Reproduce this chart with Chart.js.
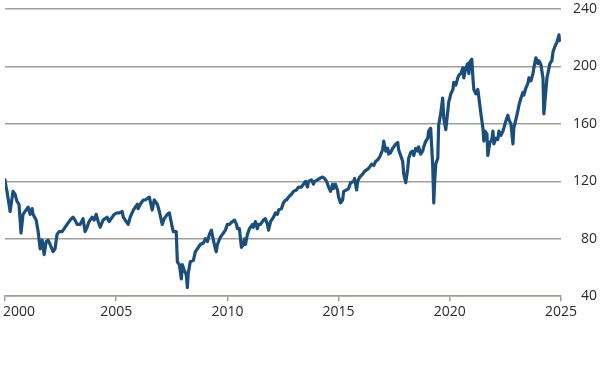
<!DOCTYPE html>
<html>
<head>
<meta charset="utf-8">
<script src="https://cdn.jsdelivr.net/npm/chart.js@4.4.1/dist/chart.umd.min.js"></script>
<style>
  html, body { margin: 0; padding: 0; background: #ffffff; }
  #wrap { width: 600px; height: 380px; }
</style>
</head>
<body>
<div id="wrap"><canvas id="c" width="600" height="380"></canvas></div>
<script>
const years = [
  2000.00,2000.05,2000.09,2000.23,2000.36,2000.45,2000.54,2000.63,2000.72,2000.81,2000.95,
  2001.04,2001.13,2001.22,2001.26,2001.40,2001.49,2001.58,2001.67,2001.76,2001.85,2001.94,
  2002.03,2002.16,2002.25,2002.34,2002.43,2002.57,2002.66,2002.79,2002.93,
  2003.06,2003.15,2003.24,2003.38,2003.51,2003.60,2003.69,2003.78,2003.92,
  2004.01,2004.10,2004.19,2004.28,2004.41,2004.50,2004.59,2004.68,2004.82,2004.91,
  2005.05,2005.14,2005.27,2005.32,2005.45,2005.54,2005.63,2005.77,2005.86,2005.95,2005.99,
  2006.08,2006.22,2006.31,2006.40,2006.49,2006.62,2006.71,2006.85,2006.94,
  2007.07,2007.16,2007.30,2007.39,2007.52,2007.57,2007.70,2007.75,2007.84,2007.93,2007.97,
  2008.06,2008.15,2008.20,2008.24,2008.33,2008.47,2008.56,2008.65,2008.78,2008.92,
  2009.01,2009.10,2009.19,2009.28,2009.37,2009.46,2009.50,2009.55,2009.68,2009.82,2009.91,
  2010.00,2010.09,2010.23,2010.32,2010.41,2010.45,2010.54,2010.63,2010.72,2010.77,2010.81,2010.90,2010.99,
  2011.13,2011.17,2011.26,2011.35,2011.40,2011.49,2011.62,2011.71,2011.80,2011.85,2011.94,
  2012.07,2012.16,2012.25,2012.30,2012.43,2012.52,2012.61,2012.66,2012.75,2012.88,2012.97,
  2013.11,2013.20,2013.33,2013.42,2013.51,2013.60,2013.65,2013.78,2013.87,2013.92,
  2014.05,2014.14,2014.28,2014.37,2014.46,2014.55,2014.64,2014.73,2014.77,2014.86,2014.95,
  2015.00,2015.09,2015.18,2015.23,2015.36,2015.45,2015.54,2015.68,2015.72,2015.81,2015.86,2015.95,
  2016.08,2016.17,2016.26,2016.35,2016.49,2016.58,2016.67,2016.76,2016.85,2016.98,
  2017.03,2017.12,2017.21,2017.25,2017.34,2017.43,2017.48,2017.57,2017.66,2017.70,2017.79,2017.88,2017.93,
  2018.02,2018.11,2018.15,2018.24,2018.33,2018.38,2018.47,2018.56,2018.60,2018.69,2018.78,2018.83,2018.92,
  2019.01,2019.05,2019.14,2019.23,2019.28,2019.32,2019.37,2019.46,2019.50,2019.59,2019.68,2019.73,2019.82,2019.91,2019.95,
  2020.05,2020.14,2020.18,2020.27,2020.36,2020.41,2020.50,2020.59,2020.63,2020.72,2020.81,2020.86,2020.90,2020.99,
  2021.04,2021.08,2021.17,2021.26,2021.31,2021.40,2021.49,2021.53,2021.58,2021.67,2021.71,2021.80,2021.89,2021.94,2021.98,
  2022.07,2022.16,2022.21,2022.30,2022.39,2022.43,2022.52,2022.61,2022.66,2022.75,2022.84,2022.88,2022.97,
  2023.06,2023.11,2023.20,2023.29,2023.33,2023.42,2023.51,2023.56,2023.65,2023.74,2023.78,2023.87,2023.96,
  2024.01,2024.10,2024.19,2024.23,2024.28,2024.37,2024.41,2024.50,2024.59,2024.64,2024.73,2024.82,2024.91,2024.93
];

// Index level at each observation
const values = [
  121,116,113,99,113,111,106,104,84,97,100,
  102,97,101,97,93,85,73,79,69,78,79,
  76,71,73,83,85,85,87,90,93,
  95,93,90,90,94,85,88,92,95,
  93,97,92,88,93,94,95,92,95,97,
  98,98,99,95,92,90,95,100,102,104,101,
  104,107,107,108,109,100,107,104,99,
  90,94,97,98,88,85,85,64,62,52,62,
  58,55,46,56,64,65,71,73,76,77,
  80,78,83,86,79,73,71,76,81,84,86,
  90,90,92,93,90,87,87,74,76,80,76,83,87,
  90,88,92,87,90,90,93,94,90,86,92,
  95,98,97,100,101,105,107,107,109,111,113,
  114,116,116,118,120,116,120,121,118,120,
  121,122,123,122,120,116,113,118,115,118,114,
  109,105,107,113,114,115,119,120,122,114,120,123,
  125,127,128,129,132,131,134,135,137,142,
  148,141,143,139,140,143,144,146,147,142,138,134,125,
  119,129,136,140,141,138,143,141,144,139,141,144,148,
  150,155,157,132,105,120,132,136,159,167,178,164,156,169,175,
  181,184,189,187,192,194,195,199,192,199,202,195,203,205,
  192,184,181,184,178,167,157,148,155,153,138,147,149,155,146,
  150,149,155,152,155,157,162,166,163,160,146,157,163,
  169,173,178,182,180,185,188,192,190,195,199,206,202,
  204,201,192,167,176,192,195,202,204,210,214,217,222,218
];

const xTicks = [2000, 2005, 2010, 2015, 2020, 2025];
const yTicks = [40, 80, 120, 160, 200, 240];

const points = years.map((y, i) => ({ x: y, y: values[i] }));

const gridColor = '#a29e96';
const textColor = '#2a2a2a';
const font = { family: "'Open Sans', 'Liberation Sans', sans-serif", size: 14 };

// Keep the first x label inside the canvas (left-aligned just before its tick), like the reference
const firstLabelInside = {
  id: 'firstLabelInside',
  beforeDraw(chart) {
    const s = chart.scales.x;
    const items = s.getLabelItems();
    if (items && items.length) {
      items[0].options.textAlign = 'left';
      items[0].options.translation[0] = s.getPixelForValue(xTicks[0]) - 2;
    }
  }
};

new Chart(document.getElementById('c'), {
  type: 'line',
  data: {
    datasets: [{
      data: points,
      borderColor: '#1b4e7b',
      borderWidth: 3.2,
      pointRadius: 0,
      tension: 0,
      fill: false,
      borderJoinStyle: 'round',
      borderCapStyle: 'round'
    }]
  },
  options: {
    responsive: false,
    animation: false,
    layout: { padding: { left: 5, right: 3, top: 9, bottom: 58 } },
    plugins: { legend: { display: false }, tooltip: { enabled: false } },
    scales: {
      x: {
        type: 'linear',
        min: xTicks[0],
        max: xTicks[xTicks.length - 1],
        afterBuildTicks: (axis) => { axis.ticks = xTicks.map(v => ({ value: v })); },
        afterFit: (axis) => { axis.paddingLeft = 0; axis.paddingRight = 0; },
        ticks: {
          color: textColor,
          font: font,
          padding: 2,
          maxRotation: 0,
          callback: (v) => String(v)
        },
        grid: {
          display: true,
          drawOnChartArea: false,
          drawTicks: true,
          tickLength: 5,
          color: gridColor,
          lineWidth: 1.5
        },
        border: { display: true, color: gridColor, width: 1.5 }
      },
      y: {
        position: 'right',
        min: yTicks[0],
        max: yTicks[yTicks.length - 1],
        afterBuildTicks: (axis) => { axis.ticks = yTicks.map(v => ({ value: v })); },
        afterFit: (axis) => { axis.paddingTop = 0; axis.paddingBottom = 0; },
        ticks: {
          color: textColor,
          font: font,
          padding: 6,
          crossAlign: 'far',
          callback: (v) => String(v)
        },
        grid: {
          color: gridColor,
          lineWidth: 1.5,
          drawTicks: false
        },
        border: { display: false }
      }
    }
  },
  plugins: [firstLabelInside]
});
</script>
</body>
</html>
